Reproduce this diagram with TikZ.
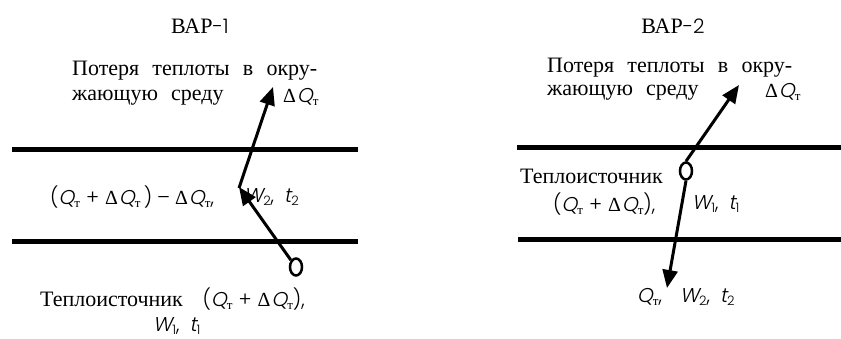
\documentclass[tikz,border=0pt]{standalone}
\usepackage{fontspec}
\newfontfamily\rmcyr{Liberation Serif}
\newfontfamily\gsans{Poppins Light}
\newfontfamily\gsl[FakeSlant=0.2]{Poppins Light}
\usetikzlibrary{arrows.meta,shapes.geometric}
\newcommand\ws{\hspace{0.6em}}
\newcommand\subx[1]{\raisebox{-0.35ex}{\fontsize{13}{13}\selectfont #1}}
\newcommand\Qt{{\gsl Q}\subx{\rmcyr т}}
\newcommand\DQt{{\rmcyr Δ}\kern1pt\Qt}
\newcommand\Wn[1]{{\gsl W}\subx{\gsans #1}}
\newcommand\tn[1]{{\gsl t}\subx{\gsans #1}}
\newcommand\plusx{{\gsans\hspace{0.3em}+\hspace{0.3em}}}
\newcommand\cmx{{\gsans,}}
\tikzset{
  txt/.style={font=\rmcyr\fontsize{22}{24}\selectfont, inner sep=0pt, anchor=west},
  mth/.style={font=\fontsize{20}{22}\selectfont, inner sep=0pt, anchor=west},
  ttl/.style={font=\rmcyr\fontsize{22}{24}\selectfont, inner sep=0pt},
  wall/.style={line width=5pt},
  flow/.style={line width=3pt, -{Triangle[length=18pt,width=15pt]}},
  src/.style={draw, ellipse, line width=2.5pt, minimum width=12pt, minimum height=17pt, inner sep=0pt}
}
\begin{document}
\begin{tikzpicture}[x=1pt,y=-1pt]
\useasboundingbox (0,0) rectangle (841,338);
% ---------- left panel
\node[ttl] (v1) at (200,26) {ВАР{\gsans\fontsize{20}{22}\selectfont-1}};
\node[txt] (l1a) at (72,71) {Потеря\ws теплоты\ws в\ws окру-};
\node[txt] (l1b) at (72,98) {жающую\ws среду};
\node[mth] (l1d) at (283,97) {\DQt};
\draw[wall] (12,149) coordinate (w1a) -- (358,149) coordinate (w1b);
\draw[wall] (12,241) coordinate (w2a) -- (358,241) coordinate (w2b);
\node[mth] (l1m) at (50,197) {{\gsans(}\Qt\plusx\DQt\,{\gsans)\hspace{0.25em}–\hspace{0.25em}}\DQt\cmx};
\node[mth] (l1w) at (244,197) {\Wn{2}\cmx\hspace{0.5em}\tn{2}};
\node[src] (c1) at (296,267) {};
\coordinate (j1) at (239,187);
\coordinate (t1) at (273,87);
\draw[flow] (c1.north west) -- (j1);
\draw[flow] ([yshift=-1pt]j1) -- (t1);
\node[txt] (l1s) at (40,299) {Теплоисточник\hspace{0.9em}{\fontsize{20}{22}\selectfont{\gsans(}\Qt\plusx\DQt{\gsans)}\cmx}};
\node[mth] (l1t) at (153,326) {\Wn{1}\cmx\hspace{0.5em}\tn{1}};
% ---------- right panel
\node[ttl] (v2) at (673,26) {ВАР{\gsans\fontsize{20}{22}\selectfont-2}};
\node[txt] (r1a) at (547,68) {Потеря\ws теплоты\ws в\ws окру-};
\node[txt] (r1b) at (547,93) {жающую\ws среду};
\node[mth] (r1d) at (765,92) {\DQt};
\draw[wall] (517,147) coordinate (w3a) -- (841,147) coordinate (w3b);
\draw[wall] (518,239) coordinate (w4a) -- (841,239) coordinate (w4b);
\node[src] (c2) at (686,171) {};
\coordinate (t2) at (739,85);
\coordinate (t3) at (667,288);
\draw[flow] (c2.north) -- (t2);
\draw[flow] (c2.south) -- (t3);
\node[txt] (r1s) at (520,176) {Теплоисточник};
\node[mth] (r1q) at (553,204) {{\gsans(}\Qt\plusx\DQt{\gsans)}\cmx};
\node[mth] (r1w) at (692,204) {\Wn{1}\cmx\hspace{0.5em}\tn{1}};
\node[mth] (r1o) at (637,297) {\Qt\cmx\hspace{0.9em}\Wn{2}\cmx\hspace{0.5em}\tn{2}};
\end{tikzpicture}
\end{document}
